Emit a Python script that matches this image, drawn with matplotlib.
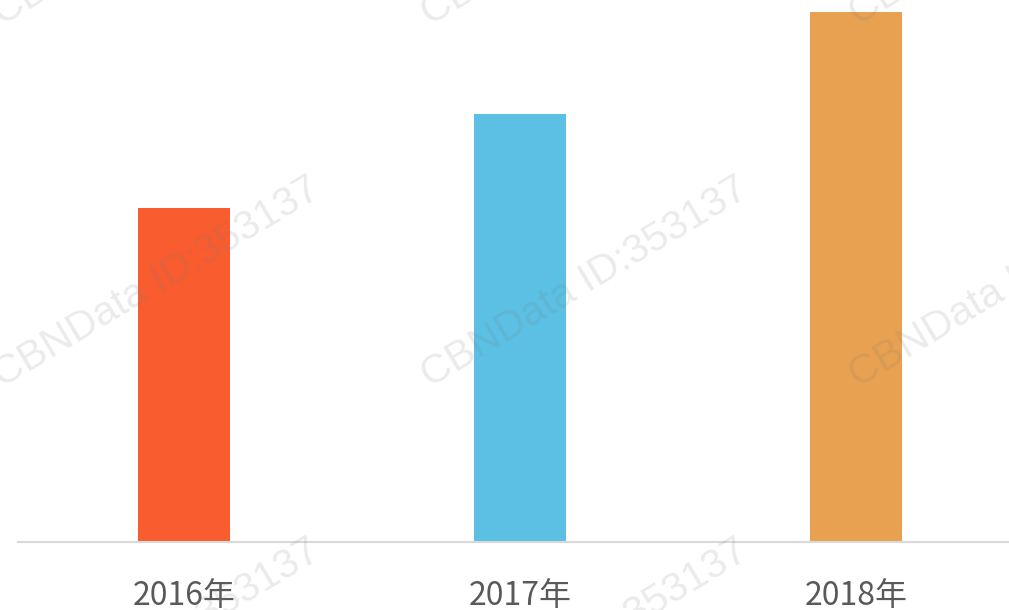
import matplotlib
matplotlib.use('Agg')
import matplotlib.pyplot as plt

plt.rcParams['font.family'] = ['Noto Sans CJK SC', 'DejaVu Sans']

years = ['2016年', '2017年', '2018年']
values = [3.34, 4.28, 5.30]
colors = ['#F85C2F', '#5BC0E3', '#E8A150']

fig = plt.figure(figsize=(10.09, 6.10), dpi=100)
ax = fig.add_axes([18 / 1009, 68 / 610, 991 / 1009, 542 / 610])

x = range(len(years))
ax.bar(x, values, width=0.274, color=colors, zorder=2)
ax.set_xlim(-0.494, 2.455)
ax.set_ylim(0, 5.42)

for s in ['top', 'right', 'left']:
    ax.spines[s].set_visible(False)
ax.spines['bottom'].set_color('#d9d9d9')
ax.spines['bottom'].set_linewidth(1.5)
ax.set_yticks([])
ax.set_xticks(list(x))
ax.set_xticklabels(years, fontsize=23, color='#595959')
ax.tick_params(axis='x', length=0, pad=27)

# watermark
for j in [-1, 0, 1]:
    for i in range(3):
        px = 2 + 428 * i
        py = 388 + 362 * j
        fig.text(px / 1009, 1 - py / 610, 'CBNData ID:353137', fontsize=29.5,
                 family='Liberation Sans', color='#808080', alpha=0.16,
                 rotation=31, rotation_mode='anchor', ha='left', va='baseline',
                 zorder=5)

fig.savefig('out.png', dpi=100)
